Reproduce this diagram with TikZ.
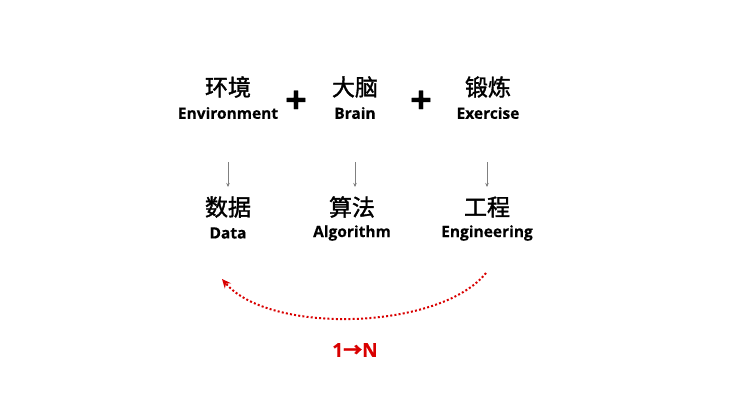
\documentclass[tikz,border=0pt]{standalone}
\usepackage{fontspec}
\setmainfont{Open Sans}[FakeBold=0.4]
\newfontfamily\cjk{Noto Sans CJK SC}[FakeBold=1.5]
\usetikzlibrary{arrows.meta}
\tikzset{
  zh/.style={font=\cjk\fontsize{23}{24}\selectfont, inner sep=0pt},
  en/.style={font=\bfseries\fontsize{15.5}{16}\selectfont, inner sep=0pt},
  plus/.style={font=\fontsize{38}{38}\selectfont\bfseries, inner sep=0pt},
  down/.style={-{Stealth[length=4pt,width=3.5pt]}, gray, line width=0.5pt},
  cyc/.style={red!85!black, line width=2pt, dash pattern=on 2pt off 2.2pt, -{Stealth[length=9pt,width=8pt]}}
}
\begin{document}
\begin{tikzpicture}[x=1pt,y=-1pt]
\useasboundingbox (0,0) rectangle (731,400);
\node[zh] (z1) at (228,87) {环境};
\node[en] (e1) at (228,113) {Environment};
\node[plus] (p1) at (296,102) {+};
\node[zh] (z2) at (355,87) {大脑};
\node[en] (e2) at (355,113) {Brain};
\node[plus] (p2) at (421,102) {+};
\node[zh] (z3) at (488,87) {锻炼};
\node[en] (e3) at (488,113) {Exercise};
\coordinate (a1) at (228,162); \coordinate (b1) at (228,187);
\coordinate (a2) at (355,162); \coordinate (b2) at (355,187);
\coordinate (a3) at (487,162); \coordinate (b3) at (487,187);
\draw[down] (a1) -- (b1);
\draw[down] (a2) -- (b2);
\draw[down] (a3) -- (b3);
\node[zh] (d1) at (228,207) {数据};
\node[en] (f1) at (228,233) {Data};
\node[zh] (d2) at (352,207) {算法};
\node[en] (f2) at (352,233) {Algorithm};
\node[zh] (d3) at (487,207) {工程};
\node[en] (f3) at (487,233) {Engineering};
\coordinate (s) at (486,273);
\coordinate (t) at (222,279);
\draw[cyc] (s) .. controls (440,330) and (270,335) .. (t);
\node[en, text=red!85!black, font=\bfseries\fontsize{19}{20}\selectfont] (n) at (355,350) {1{\cjk →}N};
\end{tikzpicture}
\end{document}
